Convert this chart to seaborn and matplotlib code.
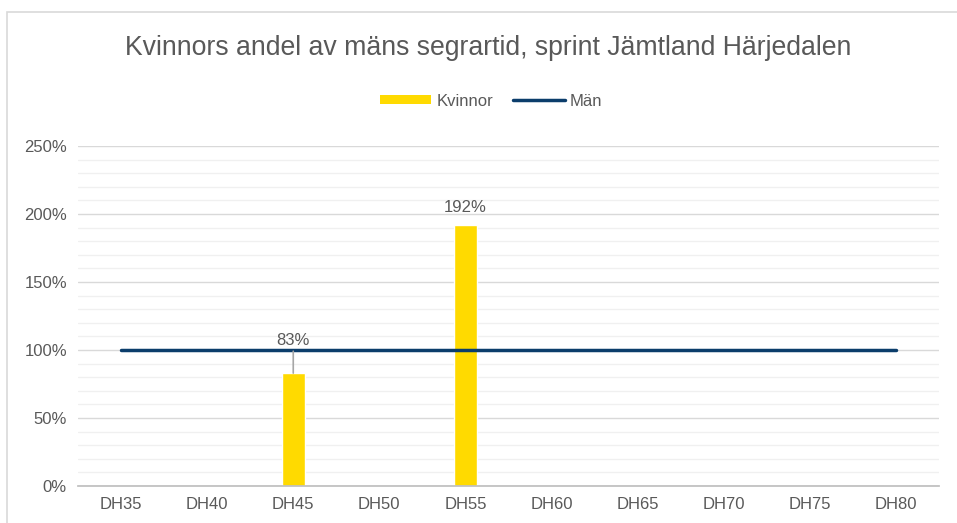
import matplotlib
matplotlib.use('Agg')
import matplotlib.pyplot as plt
from matplotlib.patches import Rectangle
from matplotlib.lines import Line2D
from matplotlib.ticker import MultipleLocator, PercentFormatter
import seaborn as sns
import pandas as pd
import numpy as np

# Data
classes = ["DH35", "DH40", "DH45", "DH50", "DH55", "DH60", "DH65", "DH70", "DH75", "DH80"]
kvinnor = [np.nan, np.nan, 0.83, np.nan, 1.92, np.nan, np.nan, np.nan, np.nan, 0.005]
man = [1.0, 1.0, 1.0, 1.0, 1.0, 1.0, 1.0, 1.0, 1.0, 1.0]
labels = {2: "83%", 4: "192%"}

df = pd.DataFrame({"klass": classes, "Kvinnor": kvinnor, "Män": man, "pos": np.arange(len(classes))})

sns.set_theme(style="white")
plt.rcParams['font.family'] = ['Liberation Sans', 'DejaVu Sans']

yellow = "#FFDA00"
navy = "#0B3D6B"
text_c = "#595959"

fig = plt.figure(figsize=(9.57, 5.23), dpi=100)
ax = fig.add_axes([78 / 957, 1 - 486 / 523, (939 - 78) / 957, (486 - 146) / 523])

# chart border
fig.patches.append(Rectangle((7 / 957, -0.1), 1.2, 1 - 12 / 523 + 0.1, transform=fig.transFigure,
                             fill=False, edgecolor="#d9d9d9", linewidth=1.2, zorder=0))

sns.barplot(data=df, x="klass", y="Kvinnor", color=yellow, width=0.27, saturation=1,
            ax=ax, zorder=3, errorbar=None)
sns.lineplot(data=df, x="pos", y="Män", color=navy, linewidth=2.5, ax=ax, zorder=4)

ax.set_xlim(-0.5, len(classes) - 0.5)
ax.set_ylim(0, 2.5)
ax.yaxis.set_major_locator(MultipleLocator(0.5))
ax.yaxis.set_minor_locator(MultipleLocator(0.1))
ax.yaxis.set_major_formatter(PercentFormatter(1.0, decimals=0))
ax.grid(axis="y", which="major", color="#d9d9d9", linewidth=1.0, zorder=0)
ax.grid(axis="y", which="minor", color="#f0f0f0", linewidth=1.0, zorder=0)
ax.set_axisbelow(True)

for s in ["top", "right", "left"]:
    ax.spines[s].set_visible(False)
ax.spines["bottom"].set_color("#bfbfbf")
ax.spines["bottom"].set_zorder(5)

ax.set_xticks(np.arange(len(classes)))
ax.set_xticklabels(classes)
ax.set_xticks(np.arange(len(classes) + 1) - 0.5, minor=True)
ax.tick_params(axis="x", which="major", length=0, pad=8, labelsize=12, labelcolor=text_c)
ax.tick_params(axis="x", which="minor", length=5, color="#bfbfbf", direction="out")
ax.tick_params(axis="y", which="both", length=0, pad=8, labelsize=12, labelcolor=text_c)
ax.set_xlabel("")
ax.set_ylabel("")

# data labels
ax.annotate(labels[2], xy=(2, kvinnor[2]), xytext=(2, 1.015), ha="center", va="bottom",
            fontsize=12, color=text_c, zorder=6,
            arrowprops=dict(arrowstyle="-", color="#a6a6a6", linewidth=1.2, shrinkA=0, shrinkB=0))
ax.text(4, kvinnor[4] + 0.07, labels[4], ha="center", va="bottom", fontsize=12, color=text_c)

fig.text(488 / 957, 1 - 48 / 523, "Kvinnors andel av mäns segrartid, sprint Jämtland Härjedalen",
         ha="center", va="center", fontsize=19.2, color=text_c)

handles = [Rectangle((0, 0), 1, 1, facecolor=yellow, edgecolor="none"),
           Line2D([0], [0], color=navy, linewidth=2.5)]
fig.legend(handles, ["Kvinnor", "Män"], loc="center", bbox_to_anchor=(491 / 957, 1 - 101 / 523),
           ncol=2, frameon=False, fontsize=12, labelcolor=text_c, handlelength=3.1,
           handleheight=0.45, handletextpad=0.3, columnspacing=1.2)

plt.savefig("out.png", dpi=100)
plt.close()
